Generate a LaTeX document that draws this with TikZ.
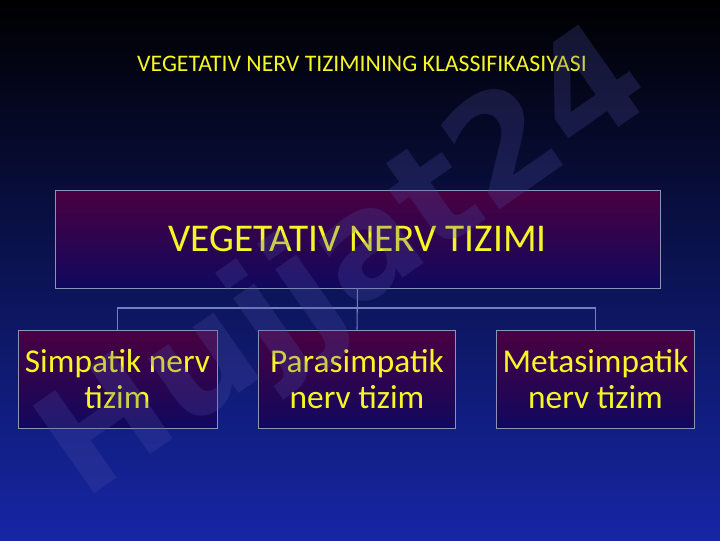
\documentclass[tikz,border=0pt]{standalone}
\usepackage{fontspec}
\setmainfont{Carlito}
\newfontfamily\wmfont{DejaVu Sans}
\usetikzlibrary{positioning}

\definecolor{ttlyellow}{RGB}{246,246,38}
\definecolor{boxtop}{RGB}{74,0,64}
\definecolor{boxbot}{RGB}{16,8,94}
\definecolor{boxline}{RGB}{138,148,182}
\definecolor{linkline}{RGB}{112,128,192}
\definecolor{bgmid}{RGB}{8,14,80}
\definecolor{bgbot}{RGB}{22,38,165}
\definecolor{wmcolor}{RGB}{80,80,170}

\tikzset{
  orgbox/.style={draw=boxline, line width=0.6pt, top color=boxtop, bottom color=boxbot,
    text=ttlyellow, align=center, inner sep=0pt},
  leafbox/.style={orgbox, minimum width=148pt, minimum height=73.5pt,
    font=\fontsize{25}{27}\selectfont},
  link/.style={draw=linkline, line width=0.8pt}
}

\begin{document}
\begin{tikzpicture}[x=0.75pt,y=0.75pt,yscale=-1,xscale=1]
\useasboundingbox (0,0) rectangle (720,540);

%Shape: Background
\shade [top color=black, middle color=bgmid, bottom color=bgbot] (0,0) rectangle (720,540);

% Title
\node [text=ttlyellow, font=\fontsize{17.8}{20}\selectfont] (title) at (362,64) {VEGETATIV NERV TIZIMINING KLASSIFIKASIYASI};

% Main box
\node [orgbox, minimum width=453.75pt, minimum height=73.5pt, font=\fontsize{29.5}{32}\selectfont] (veg) at (357.5,239) {VEGETATIV NERV TIZIMI};

% Leaf boxes
\node [leafbox, minimum width=149.25pt] (simp) at (117.5,379) {Simpatik nerv\\tizim};
\node [leafbox] (para) at (357,379) {Parasimpatik\\nerv tizim};
\node [leafbox] (meta) at (595.5,379) {Metasimpatik\\nerv tizim};

% Connectors
\coordinate (bus) at (357,308);
\draw [link] (veg.south) -- (para.north);
\draw [link] (simp.north) |- (bus) -| (meta.north);

% Watermark
\node [rotate=35, text=wmcolor, text opacity=0.25, font=\wmfont\bfseries\fontsize{110}{110}\selectfont] (wm) at (348,268) {Hujjat24};

\end{tikzpicture}
\end{document}
